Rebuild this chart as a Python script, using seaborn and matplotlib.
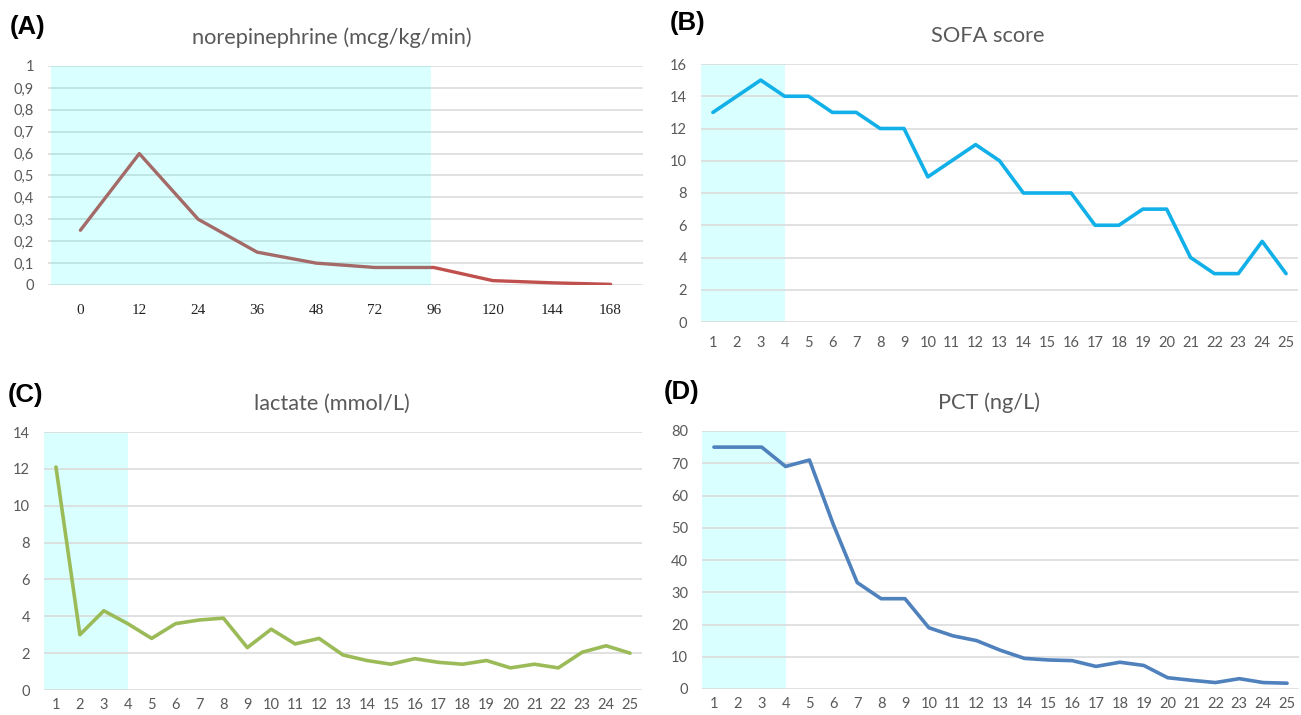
import numpy as np
import pandas as pd
import matplotlib
matplotlib.use("Agg")
import matplotlib.pyplot as plt
import seaborn as sns
from matplotlib.ticker import FuncFormatter

sns.set_theme(style="white")
plt.rcParams["font.family"] = ["Lato", "DejaVu Sans"]

# data
hours = ["0", "12", "24", "36", "48", "72", "96", "120", "144", "168"]
norepinephrine = [0.25, 0.60, 0.30, 0.15, 0.10, 0.08, 0.08, 0.02, 0.01, 0.003]

days = list(range(1, 26))
sofa = [13, 14, 15, 14, 14, 13, 13, 12, 12, 9, 10, 11, 10, 8, 8, 8, 6, 6, 7, 7, 4, 3, 3, 5, 3]
lactate = [12.1, 3.0, 4.3, 3.6, 2.8, 3.6, 3.8, 3.9, 2.3, 3.3, 2.5, 2.8, 1.9, 1.6, 1.4,
           1.7, 1.5, 1.4, 1.6, 1.2, 1.4, 1.2, 2.05, 2.4, 2.0]
pct = [75, 75, 75, 69, 71, 51, 33, 28, 28, 19, 16.5, 15, 12, 9.5, 9, 8.8, 7, 8.3, 7.3,
       3.5, 2.7, 2.0, 3.2, 2.0, 1.8]

GREY = "#595959"
GRID = "#d9d9d9"
SHADE = "#00ffff"

W, H = 1301, 715
fig = plt.figure(figsize=(W / 100, H / 100), dpi=100)


def px_axes(x0, x1, y0, y1):
    # pixel box (top-left origin) -> figure axes
    return fig.add_axes([x0 / W, 1 - y1 / H, (x1 - x0) / W, (y1 - y0) / H])


def style_axes(ax, yticks, comma=False):
    ax.set_yticks(yticks)
    ax.set_ylim(yticks[0], yticks[-1])
    ax.yaxis.grid(True, color=GRID, linewidth=1.1)
    ax.xaxis.grid(False)
    for s in ax.spines.values():
        s.set_visible(False)
    ax.tick_params(axis="both", length=0, colors=GREY, labelsize=10.5)
    ax.tick_params(axis="y", pad=10)
    if comma:
        ax.yaxis.set_major_formatter(FuncFormatter(
            lambda v, p: ("%g" % round(v, 1)).replace(".", ",")))
    ax.set_xlabel("")
    ax.set_ylabel("")


# (A) norepinephrine
axA = px_axes(48, 643, 66, 285)
df_a = pd.DataFrame({"pos": np.arange(len(hours)), "value": norepinephrine})
sns.lineplot(data=df_a, x="pos", y="value", ax=axA, color="#c0504d", linewidth=2.4, zorder=2)
axA.axvspan(-0.5, 5.95, color=SHADE, alpha=0.15, lw=0, zorder=3)
style_axes(axA, np.round(np.arange(0, 1.01, 0.1), 1), comma=True)
axA.set_xlim(-0.55, 9.55)
axA.set_xticks(df_a["pos"])
axA.set_xticklabels(hours, family="Liberation Serif", color="#222222", fontsize=11)
axA.tick_params(axis="x", pad=14)
axA.set_title("norepinephrine (mcg/kg/min)", color=GREY, fontsize=15.7, pad=16, x=0.477)

panels = [
    ((701, 1298, 64, 322), sofa, "#11b0e8", "SOFA score", 10),
    ((44, 642, 432, 690), lactate, "#9bbb59", "lactate (mmol/L)", 6),
    ((702, 1299, 431, 689), pct, "#4f81bd", "PCT (ng/L)", 6),
]
yticks = [np.arange(0, 17, 2), np.arange(0, 15, 2), np.arange(0, 81, 10)]
axes = [axA]
for (box, vals, color, title, xpad), yt in zip(panels, yticks):
    ax = px_axes(*box)
    df = pd.DataFrame({"day": days, "value": vals})
    ax.axvspan(0.5, 4, color=SHADE, alpha=0.15, lw=0, zorder=0)
    sns.lineplot(data=df, x="day", y="value", ax=ax, color=color, linewidth=2.6, zorder=3)
    style_axes(ax, yt)
    ax.set_xlim(0.5, 25.5)
    ax.set_xticks(days)
    ax.tick_params(axis="x", pad=xpad)
    ax.set_title(title, color=GREY, fontsize=15.7, pad=16, x=0.481)
    axes.append(ax)

for lab, (x, y) in zip(["(A)", "(B)", "(C)", "(D)"],
                       [(10, 27), (670, 23), (8, 395), (664, 392)]):
    fig.text(x / W, 1 - y / H, lab, family="Liberation Sans", fontweight="bold",
             fontsize=18.5, color="black", va="center", ha="left")

fig.savefig("out.png", dpi=100)
